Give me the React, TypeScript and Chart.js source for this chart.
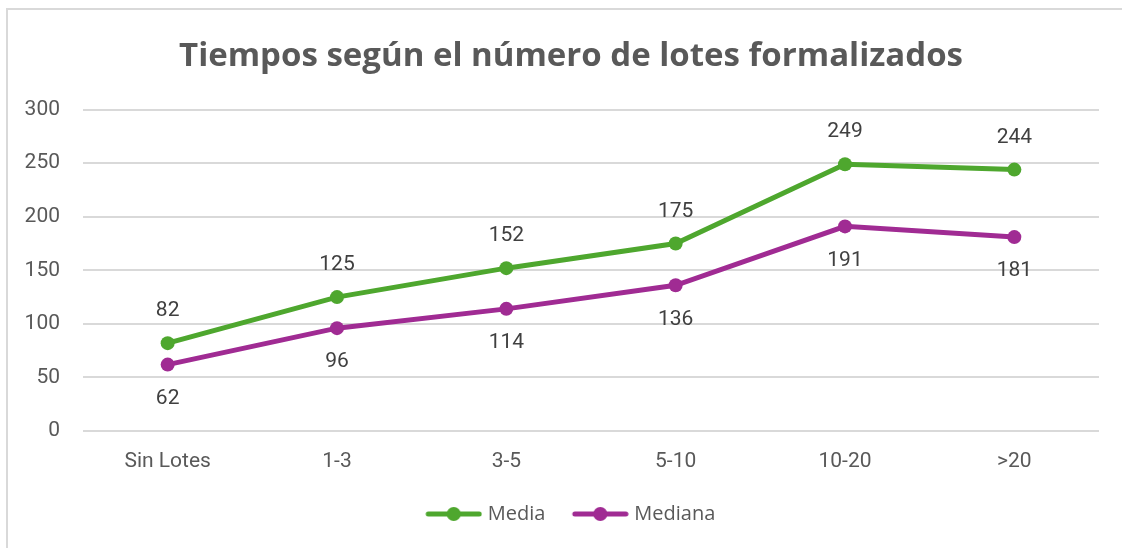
import React, { useEffect, useRef } from "react";
import { Chart, registerables } from "chart.js";

Chart.register(...registerables);

const categories = ["Sin Lotes", "1-3", "3-5", "5-10", "10-20", ">20"];
const mediaValues = [82, 125, 152, 175, 249, 244];
const medianaValues = [62, 96, 114, 136, 191, 181];
const yTicks = [0, 50, 100, 150, 200, 250, 300];
const titleText = "Tiempos según el número de lotes formalizados";

const GREEN = "#4EA72E";
const PURPLE = "#A02B93";

function makeLegendIcon(color: string): HTMLCanvasElement {
  const c = document.createElement("canvas");
  c.width = 60;
  c.height = 16;
  const ctx = c.getContext("2d")!;
  ctx.strokeStyle = color;
  ctx.lineWidth = 5;
  ctx.lineCap = "round";
  ctx.beginPath();
  ctx.moveTo(6, 8);
  ctx.lineTo(57, 8);
  ctx.stroke();
  ctx.fillStyle = color;
  ctx.beginPath();
  ctx.arc(31.5, 8, 7, 0, Math.PI * 2);
  ctx.fill();
  return c;
}

const dataLabelPlugin = {
  id: "dataLabels",
  afterDatasetsDraw(chart: any) {
    const ctx = chart.ctx;
    ctx.save();
    ctx.font = "21px Roboto";
    ctx.fillStyle = "#404040";
    ctx.textAlign = "center";
    ctx.textBaseline = "middle";
    chart.data.datasets.forEach((ds: any, i: number) => {
      const meta = chart.getDatasetMeta(i);
      meta.data.forEach((pt: any, j: number) => {
        const v = ds.data[j];
        const off = i === 0 ? -32 : 34;
        ctx.fillText(String(v), pt.x, pt.y + off);
      });
    });
    ctx.restore();
  },
};

export default function App() {
  const ref = useRef<HTMLCanvasElement | null>(null);
  useEffect(() => {
    if (!ref.current) return;
    const icons = [makeLegendIcon(GREEN), makeLegendIcon(PURPLE)];
    const chart = new Chart(ref.current, {
      type: "line",
      data: {
        labels: categories,
        datasets: [
          {
            label: "Media",
            data: mediaValues,
            borderColor: GREEN,
            backgroundColor: GREEN,
            borderWidth: 5,
            pointRadius: 7,
            pointHoverRadius: 7,
            pointBackgroundColor: GREEN,
            pointBorderWidth: 0,
          },
          {
            label: "Mediana",
            data: medianaValues,
            borderColor: PURPLE,
            backgroundColor: PURPLE,
            borderWidth: 5,
            pointRadius: 7,
            pointHoverRadius: 7,
            pointBackgroundColor: PURPLE,
            pointBorderWidth: 0,
          },
        ],
      },
      options: {
        animation: false,
        responsive: false,
        maintainAspectRatio: false,
        layout: { padding: { left: 20, right: 0, top: 0, bottom: 14 } },
        plugins: {
          title: {
            display: true,
            text: titleText,
            color: "#595959",
            font: { family: "'Open Sans'", size: 33, weight: "bold" },
            padding: { top: 37, bottom: 33 },
          },
          legend: {
            position: "bottom",
            labels: {
              usePointStyle: true,
              pointStyleWidth: 51,
              boxHeight: 16,
              padding: 28,
              color: "#595959",
              font: { family: "'Open Sans'", size: 20 },
              generateLabels: (ch: any) =>
                ch.data.datasets.map((ds: any, i: number) => ({
                  text: ds.label,
                  fillStyle: ds.borderColor,
                  strokeStyle: ds.borderColor,
                  lineWidth: 0,
                  pointStyle: icons[i],
                  datasetIndex: i,
                  hidden: false,
                  fontColor: "#595959",
                })),
            },
          },
          tooltip: { enabled: false },
        },
        scales: {
          x: {
            offset: true,
            afterFit: (s: any) => {
              s.height = 45;
            },
            grid: { display: false, drawTicks: false },
            border: { display: false },
            ticks: {
              color: "#595959",
              font: { family: "Roboto", size: 21 },
              padding: 18,
            },
          },
          y: {
            min: 0,
            max: 300,
            afterFit: (s: any) => {
              s.width = 63;
            },
            afterBuildTicks: (s: any) => {
              s.ticks = yTicks.map((v) => ({ value: v }));
            },
            grid: { color: "#d9d9d9", lineWidth: 2, drawTicks: false },
            border: { display: false },
            ticks: {
              color: "#595959",
              font: { family: "Roboto", size: 21 },
              padding: 23,
            },
          },
          y2: {
            position: "right",
            afterFit: (s: any) => {
              s.width = 23;
            },
            grid: { display: false, drawTicks: false },
            border: { display: false },
            ticks: { display: false },
          },
        },
      },
      plugins: [dataLabelPlugin],
    });
    return () => chart.destroy();
  }, []);
  return (
    <div>
      <div
        style={{
          position: "fixed",
          left: 6,
          top: 8,
          width: 1130,
          height: 560,
          border: "2px solid #d9d9d9",
          boxSizing: "border-box",
        }}
      />
      <canvas
        ref={ref}
        width={1122}
        height={548}
        style={{ position: "fixed", left: 0, top: 0, width: 1122, height: 548 }}
      />
    </div>
  );
}
